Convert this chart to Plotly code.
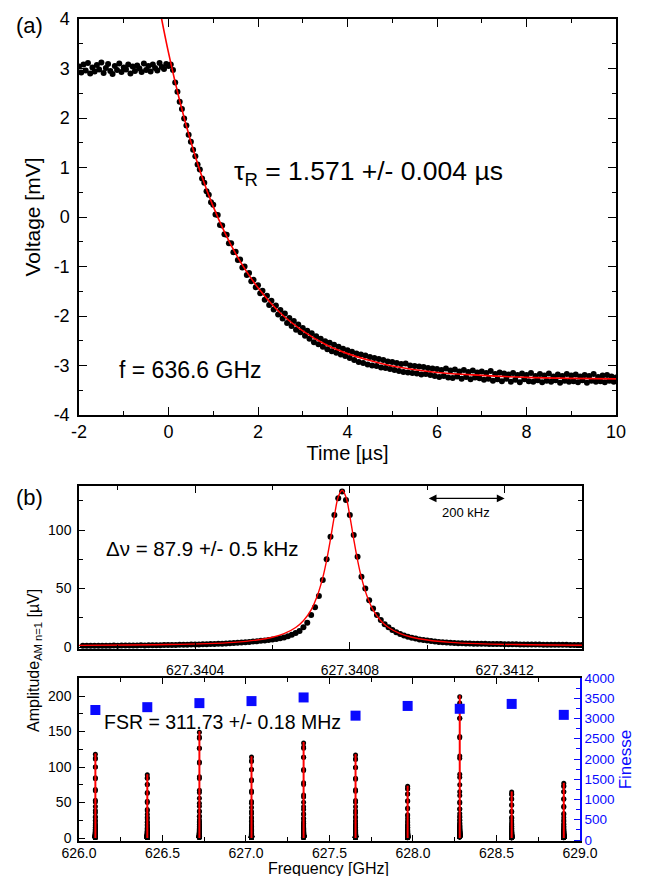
import plotly.graph_objects as go

# ---------------- panel (a): cavity ring-down trace ----------------
t_start_us = -2.0
t_step_us = 0.05
ringdown_mV = [
    3.04, 2.92, 3.08, 2.96, 3.11, 2.90, 3.02, 2.94, 3.07, 2.98, 3.12, 2.91, 3.01, 3.09, 2.95, 2.89, 3.05, 2.97, 3.10, 2.93,
    3.02, 2.98, 3.08, 2.90, 3.04, 2.95, 3.06, 3.00, 2.93, 3.10, 2.97, 3.05, 2.94, 3.08, 3.01, 2.96, 3.11, 3.03, 2.99, 3.09,
    3.05, 3.08, 2.97, 2.72, 2.53, 2.33, 2.18, 1.99, 1.85, 1.66, 1.52, 1.36, 1.23, 1.06, 0.96, 0.78, 0.69, 0.52, 0.45, 0.30,
    0.25, 0.05, 0.04, -0.16, -0.17, -0.35, -0.36, -0.53, -0.53, -0.71, -0.70, -0.87, -0.86, -1.02, -1.00, -1.17, -1.13, -1.30, -1.27, -1.42,
    -1.38, -1.54, -1.49, -1.67, -1.59, -1.78, -1.69, -1.87, -1.79, -1.97, -1.88, -2.05, -1.95, -2.14, -2.04, -2.20, -2.10, -2.28, -2.17, -2.33,
    -2.24, -2.40, -2.30, -2.46, -2.35, -2.53, -2.41, -2.57, -2.46, -2.62, -2.51, -2.67, -2.54, -2.71, -2.58, -2.74, -2.62, -2.78, -2.66, -2.81,
    -2.69, -2.85, -2.72, -2.89, -2.76, -2.93, -2.78, -2.95, -2.80, -2.98, -2.83, -3.00, -2.85, -3.01, -2.87, -3.04, -2.89, -3.05, -2.92, -3.07,
    -2.93, -3.09, -2.95, -3.11, -2.97, -3.13, -2.96, -3.14, -3.00, -3.15, -3.01, -3.16, -3.02, -3.18, -3.03, -3.17, -3.05, -3.19, -3.06, -3.21,
    -3.07, -3.23, -3.09, -3.21, -3.06, -3.24, -3.10, -3.25, -3.08, -3.22, -3.12, -3.27, -3.09, -3.23, -3.13, -3.28, -3.10, -3.24, -3.14, -3.26,
    -3.12, -3.29, -3.15, -3.27, -3.11, -3.31, -3.17, -3.28, -3.14, -3.32, -3.16, -3.27, -3.18, -3.33, -3.15, -3.29, -3.19, -3.34, -3.16, -3.28,
    -3.19, -3.32, -3.15, -3.33, -3.21, -3.30, -3.17, -3.34, -3.20, -3.31, -3.16, -3.33, -3.22, -3.30, -3.18, -3.35, -3.21, -3.31, -3.17, -3.33,
    -3.20, -3.32, -3.18, -3.34, -3.22, -3.30, -3.19, -3.35, -3.21, -3.31, -3.17, -3.33, -3.23, -3.32, -3.20, -3.34, -3.19, -3.31, -3.22, -3.33,
    -3.24,
]
ringdown_t_us = [round(t_start_us + t_step_us * i, 3) for i in range(len(ringdown_mV))]

fit_t_us = [-0.16, 0.0, 0.25, 0.5, 0.75, 1.0, 1.25, 1.5, 1.75, 2.0, 2.5, 3.0, 3.5, 4.0, 4.5, 5.0, 6.0, 7.0, 8.0, 9.0, 10.0]
fit_mV = [4.03, 3.32, 2.35, 1.52, 0.81, 0.21, -0.30, -0.74, -1.11, -1.43, -1.94, -2.30, -2.57, -2.76, -2.90, -3.01, -3.14, -3.20, -3.24, -3.26, -3.27]

time_ticks = [-2, 0, 2, 4, 6, 8, 10]
volt_ticks = [-4, -3, -2, -1, 0, 1, 2, 3, 4]

# ---------------- panel (b) upper: single resonance scan ----------------
scan_start_ghz = 627.34011
scan_step_ghz = 0.00001
scan_amp_uV = [
    1.0, 1.1, 1.0, 1.1, 1.2, 1.1, 1.2, 1.2, 1.3, 1.2, 1.3, 1.3, 1.4, 1.3, 1.4, 1.5, 1.4, 1.5, 1.6, 1.5, 1.6, 1.7, 1.7, 1.8, 1.8, 1.9, 2.0,
    2.0, 2.1, 2.1, 2.2, 2.3, 2.4, 2.5, 2.6, 2.7, 2.9, 3.0, 3.2, 3.4, 3.6, 3.8, 4.1, 4.4, 4.7, 5.0, 5.3,
    5.6, 6.0, 6.4, 6.9, 7.5, 8.2, 9.2, 10.4, 11.9, 13.8, 17.0,
    20.8, 27.4, 33.9, 43.6, 57.3, 75.0, 94.3, 112.8, 127.1,
    133.0,
    125.6, 112.8, 95.7, 77.2, 60.0, 50.1, 40.0, 33.0, 27.4,
    23.0, 19.5, 16.8, 14.5, 12.6, 11.1, 9.9, 8.8, 7.9, 7.2, 6.5, 6.0, 5.5, 5.1, 4.7, 4.4, 4.1, 3.9, 3.7, 3.5, 3.3,
    3.2, 3.1, 3.0, 2.9, 2.8, 2.8, 2.7, 2.6, 2.6, 2.5, 2.5, 2.4, 2.4, 2.3, 2.3, 2.2, 2.2, 2.2, 2.1, 2.1, 2.1, 2.0, 2.0, 2.0,
    1.9, 1.9, 1.9, 1.9, 1.8, 1.8, 1.8, 1.8,
]
scan_freq_ghz = [scan_start_ghz + scan_step_ghz * i for i in range(len(scan_amp_uV))]

lor_center_ghz = 627.34078
lor_offset_khz = [-680, -550, -450, -350, -280, -220, -180, -150, -120, -100, -80, -65, -50, -40, -30, -20, -10, 0,
                  10, 20, 30, 40, 50, 65, 80, 100, 120, 150, 180, 220, 280, 350, 450, 550, 630]
lor_fit_uV = [1.4, 1.7, 2.1, 2.9, 4.0, 6.0, 8.4, 11.4, 16.7, 22.5, 31.8, 42.9, 59.3, 74.2, 92.3, 111.9, 128.2, 134.0,
              128.2, 111.9, 92.3, 74.2, 59.3, 42.9, 31.8, 22.5, 16.7, 11.4, 8.4, 6.0, 4.0, 2.9, 2.1, 1.7, 1.5]

scale_bar_ghz = [627.3410, 627.3412]
scale_bar_uV = 127

# ---------------- panel (b) lower: comb of longitudinal modes ----------------
mode_freq_ghz = [626.098, 626.409, 626.721, 627.033, 627.345, 627.656, 627.968, 628.280, 628.591, 628.903]
mode_peak_uV = [118, 89, 149, 114, 134, 117, 73, 199, 65, 77]
mode_finesse = [3210, 3280, 3380, 3430, 3520, 3070, 3310, 3240, 3360, 3090]

FONT = "Liberation Sans, Arial, Helvetica, sans-serif"
BLUE = "#0a0aff"

fig = go.Figure()

# (a)
fig.add_trace(go.Scatter(x=ringdown_t_us, y=ringdown_mV, mode="markers",
                         marker=dict(color="black", size=6), xaxis="x", yaxis="y", showlegend=False))
fig.add_trace(go.Scatter(x=fit_t_us, y=fit_mV, mode="lines", line=dict(color="red", width=1.6, shape="spline"),
                         xaxis="x", yaxis="y", showlegend=False))

# (b) upper
fig.add_trace(go.Scatter(x=scan_freq_ghz, y=scan_amp_uV, mode="markers",
                         marker=dict(color="black", size=6), xaxis="x2", yaxis="y2", showlegend=False))
fig.add_trace(go.Scatter(x=[lor_center_ghz + d * 1e-6 for d in lor_offset_khz], y=lor_fit_uV, mode="lines",
                         line=dict(color="red", width=1.4, shape="spline"), xaxis="x2", yaxis="y2", showlegend=False))

# (b) lower: every mode scan drawn with the same measured line profile
profile = [a / max(scan_amp_uV) for a in scan_amp_uV]
bx, by, lx, ly = [], [], [], []
for f, h in zip(mode_freq_ghz, mode_peak_uV):
    for i, p in enumerate(profile):
        bx.append(f + (i - 67) * 1e-5)
        by.append(h * p)
    lx += [f, f, None]
    ly += [0, h * 1.01, None]
fig.add_trace(go.Scatter(x=bx, y=by, mode="markers", marker=dict(color="black", size=5),
                         xaxis="x3", yaxis="y3", showlegend=False))
fig.add_trace(go.Scatter(x=lx, y=ly, mode="lines", line=dict(color="red", width=2),
                         xaxis="x3", yaxis="y3", showlegend=False))
fig.add_trace(go.Scatter(x=mode_freq_ghz, y=mode_finesse, mode="markers",
                         marker=dict(color=BLUE, size=10, symbol="square"),
                         xaxis="x3", yaxis="y4", showlegend=False))

common = dict(showgrid=False, zeroline=False, showline=True, linecolor="black", linewidth=1.5,
              ticks="inside", tickcolor="black", tickwidth=1.3, automargin=False)

# page body has an 8px margin: figure is 630x868 placed at (8, 8)
fig.update_layout(
    width=630, height=868, autosize=False,
    margin=dict(l=0, r=0, t=0, b=0),
    paper_bgcolor="white", plot_bgcolor="white",
    font=dict(family=FONT, color="black"),
    xaxis=dict(domain=[0.1127, 0.9651], range=[-2, 10], anchor="y",
               tickvals=time_ticks, ticktext=[str(v) for v in time_ticks], ticklen=8,
               minor=dict(dtick=1, tick0=0, ticklen=4, ticks="inside", tickcolor="black"),
               mirror="ticks", tickfont=dict(size=18),
               title=dict(text="Time [µs]", font=dict(size=20), standoff=4), **common),
    yaxis=dict(domain=[0.5311, 0.9873], range=[-4, 4], anchor="x",
               tickvals=volt_ticks, ticktext=[str(v) for v in volt_ticks], ticklen=8,
               minor=dict(dtick=0.5, tick0=0, ticklen=4, ticks="inside", tickcolor="black"),
               mirror="ticks", tickfont=dict(size=18), ticklabelstandoff=4,
               title=dict(text="Voltage [mV]", font=dict(size=21), standoff=7), **common),
    xaxis2=dict(domain=[0.1127, 0.9111], range=[627.3401, 627.3414], anchor="y2", tick0=627.3404, dtick=0.0004,
                tickformat=".4f", ticklen=7, ticklabelstandoff=7,
                minor=dict(dtick=0.0002, tick0=627.3404, ticklen=4, ticks="inside", tickcolor="black"),
                mirror="ticks", tickfont=dict(size=14), **common),
    yaxis2=dict(domain=[0.2615, 0.4493], range=[-1.7, 137.6], anchor="x2", tickvals=[0, 50, 100], ticklen=6,
                minor=dict(dtick=25, tick0=0, ticklen=4, ticks="inside", tickcolor="black"),
                mirror="ticks", tickfont=dict(size=14), ticklabelstandoff=3, **common),
    xaxis3=dict(domain=[0.1127, 0.9079], range=[626.0, 629.0], anchor="y3", tick0=626, dtick=0.5, tickformat=".1f",
                ticklen=6, minor=dict(dtick=0.25, tick0=626, ticklen=4, ticks="inside", tickcolor="black"),
                mirror="ticks", tickfont=dict(size=14), ticklabelstandoff=-2, **common),
    yaxis3=dict(domain=[0.0403, 0.2281], range=[-4.2, 225.4], anchor="x3", tick0=0, dtick=50, ticklen=6,
                minor=dict(dtick=25, tick0=0, ticklen=4, ticks="inside", tickcolor="black"),
                mirror=False, tickfont=dict(size=14), ticklabelstandoff=3, **common),
    yaxis4=dict(overlaying="y3", side="right", anchor="x3", range=[-25, 4000], tick0=0, dtick=500,
                showgrid=False, zeroline=False, showline=True, linecolor=BLUE, linewidth=1.5,
                ticks="inside", tickcolor=BLUE, tickwidth=1.3, ticklen=6, automargin=False,
                minor=dict(dtick=250, tick0=0, ticklen=4, ticks="inside", tickcolor=BLUE),
                tickfont=dict(size=13.5, color=BLUE),
                title=dict(text="Finesse", font=dict(size=17, color=BLUE), standoff=6)),
)

ann = [
    dict(text="(a)", x=0.0349, y=0.9804, xref="paper", yref="paper", xanchor="center", yanchor="middle",
         showarrow=False, font=dict(size=22)),
    dict(text="(b)", x=0.0349, y=0.4366, xref="paper", yref="paper", xanchor="center", yanchor="middle",
         showarrow=False, font=dict(size=22)),
    dict(text="τ<sub>R</sub> = 1.571 +/- 0.004 µs", x=1.42, y=0.89, xref="x", yref="y", xanchor="left",
         yanchor="middle", showarrow=False, font=dict(size=26.5)),
    dict(text="f = 636.6 GHz", x=-1.15, y=-3.09, xref="x", yref="y", xanchor="left", yanchor="middle",
         showarrow=False, font=dict(size=23)),
    dict(text="Δν = 87.9 +/- 0.5 kHz", x=627.340165, y=84.6, xref="x2", yref="y2", xanchor="left",
         yanchor="middle", showarrow=False, font=dict(size=20.5)),
    dict(text="FSR = 311.73 +/- 0.18 MHz", x=626.138, y=163, xref="x3", yref="y3", xanchor="left",
         yanchor="middle", showarrow=False, font=dict(size=19.5)),
    dict(text="Amplitude<sub>AM n=1</sub> [µV]", x=0.0429, y=0.2477, xref="paper", yref="paper", textangle=-90,
         xanchor="center", yanchor="middle", showarrow=False, font=dict(size=16)),
    dict(text="Frequency [GHz]", x=0.5095, y=0.0086, xref="paper", yref="paper", xanchor="center",
         yanchor="middle", showarrow=False, font=dict(size=16)),
    dict(text="", x=scale_bar_ghz[1], y=scale_bar_uV, ax=scale_bar_ghz[0], ay=scale_bar_uV,
         xref="x2", yref="y2", axref="x2", ayref="y2", showarrow=True, arrowhead=2, arrowsize=1.2,
         arrowwidth=1.3, arrowcolor="black", arrowside="end+start", standoff=0, startstandoff=0),
    dict(text="200 kHz", x=sum(scale_bar_ghz) / 2, y=scale_bar_uV - 4, xref="x2", yref="y2", yanchor="top",
         showarrow=False, font=dict(size=13)),
]
fig.update_layout(annotations=ann)

fig.write_html("out.html")
